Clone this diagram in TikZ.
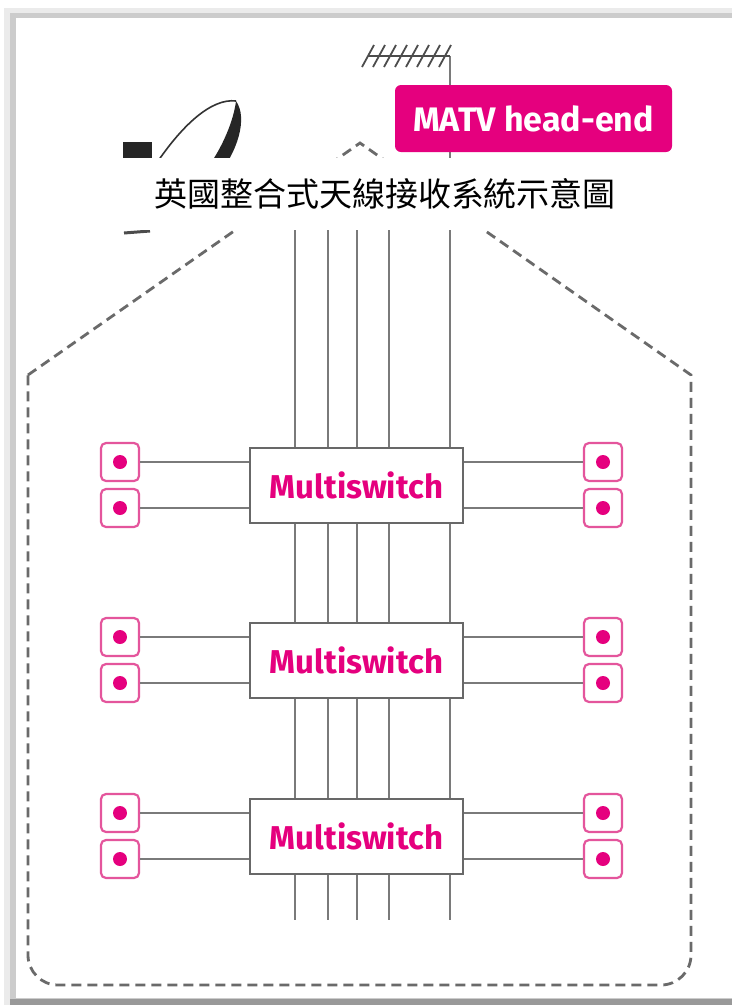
\documentclass[tikz,border=0pt]{standalone}
\usepackage{fontspec}
\setsansfont{Fira Sans}
\newfontfamily\cjkfont{Noto Sans CJK TC}
\definecolor{mag}{HTML}{E5007E}
\definecolor{pinkline}{HTML}{E4559C}
\definecolor{cable}{HTML}{7A7A7A}
\definecolor{dashgray}{HTML}{6A6A6A}
\begin{document}
\begin{tikzpicture}[x=1pt,y=-1pt,
  cablestyle/.style={draw=cable,line width=2.8pt},
  msbox/.style={draw=cable!85!black, line width=2pt, fill=white,
    minimum width=213pt, minimum height=75pt, inner sep=0pt,
    font=\sffamily\bfseries\fontsize{33}{36}\selectfont, text=mag},
  outlet/.style={draw=pinkline, line width=2.2pt, rounded corners=5pt, fill=white,
    minimum size=38pt, inner sep=0pt},
  socket/.style={circle, fill=mag, minimum size=14pt, inner sep=0pt},
  housestyle/.style={draw=dashgray, line width=2.8pt, dash pattern=on 10pt off 6pt},
]
\useasboundingbox (0,0) rectangle (732,1005);

% page frame with soft shadow
\fill[white] (0,0) rectangle (732,1005);
\fill[black!8] (4,8) rectangle (732,1005);
\fill[black!20] (10,13) rectangle (732,1005);
\fill[black!40] (10,999) rectangle (732,1005);
\fill[white] (16,18) rectangle (732,998);

% house outline
\draw[housestyle] (28,375) -- (360,143) -- (691,375) -- (691,900)
  [rounded corners=30pt] -- (691,985) -- (28,985) -- (28,900)
  [sharp corners] -- cycle;

% cable ends
\foreach \n/\x in {1/295,2/328,3/357,4/389}
  \coordinate (top\n) at (\x,200);
\coordinate (top5) at (450,56);
\foreach \n/\x in {1/295,2/328,3/357,4/389,5/450}
  \coordinate (bot\n) at (\x,920);
\foreach \n in {1,...,5}
  \draw[cablestyle] (top\n) -- (bot\n);

% satellite dish
\fill[black!85] (123,142) rectangle (152,175);
\draw[black!80, line width=1.6pt] (152,170) .. controls (182,124) and (212,98) .. (236,101);
\fill[black!85] (236,101) .. controls (248,118) and (238,152) .. (216,178)
  -- (200,178) .. controls (224,148) and (234,118) .. (236,101) -- cycle;
\draw[black!70, line width=3pt] (124,233) -- (150,231);

% terrestrial aerial
\draw[black!70, line width=1.6pt] (368,56) -- (top5);
\foreach \k in {0,...,7}
  \draw[black!70, line width=1.8pt] ({362+11*\k},67) -- ({374+11*\k},45);

% head-end
\node[fill=mag, rounded corners=6pt, minimum width=277pt, minimum height=67pt,
  inner sep=0pt, text=white, font=\sffamily\bfseries\fontsize{34}{36}\selectfont]
  (matv) at (533.5,118.5) {MATV head-end};

% floors: multiswitch with two outlets each side
\foreach \i/\y in {1/485,2/660,3/836} {
  \node[msbox] (ms\i) at (356.5,\y) {Multiswitch};
  \node[outlet] (la\i) at (120,\y-23) {};
  \node[outlet] (lb\i) at (120,\y+23) {};
  \node[outlet] (ra\i) at (603,\y-23) {};
  \node[outlet] (rb\i) at (603,\y+23) {};
  \foreach \o in {la,lb,ra,rb}
    \node[socket] (\o\i s) at (\o\i) {};
  \draw[cablestyle] (la\i.east) -- (la\i.east -| ms\i.west);
  \draw[cablestyle] (lb\i.east) -- (lb\i.east -| ms\i.west);
  \draw[cablestyle] (ms\i.east |- ra\i.west) -- (ra\i.west);
  \draw[cablestyle] (ms\i.east |- rb\i.west) -- (rb\i.west);
}

% caption banner
\node[fill=white, minimum width=532pt, minimum height=72pt, inner sep=0pt,
  font=\cjkfont\fontsize{33}{36}\selectfont] (caption) at (385,194)
  {英國整合式天線接收系統示意圖};
\end{tikzpicture}
\end{document}
